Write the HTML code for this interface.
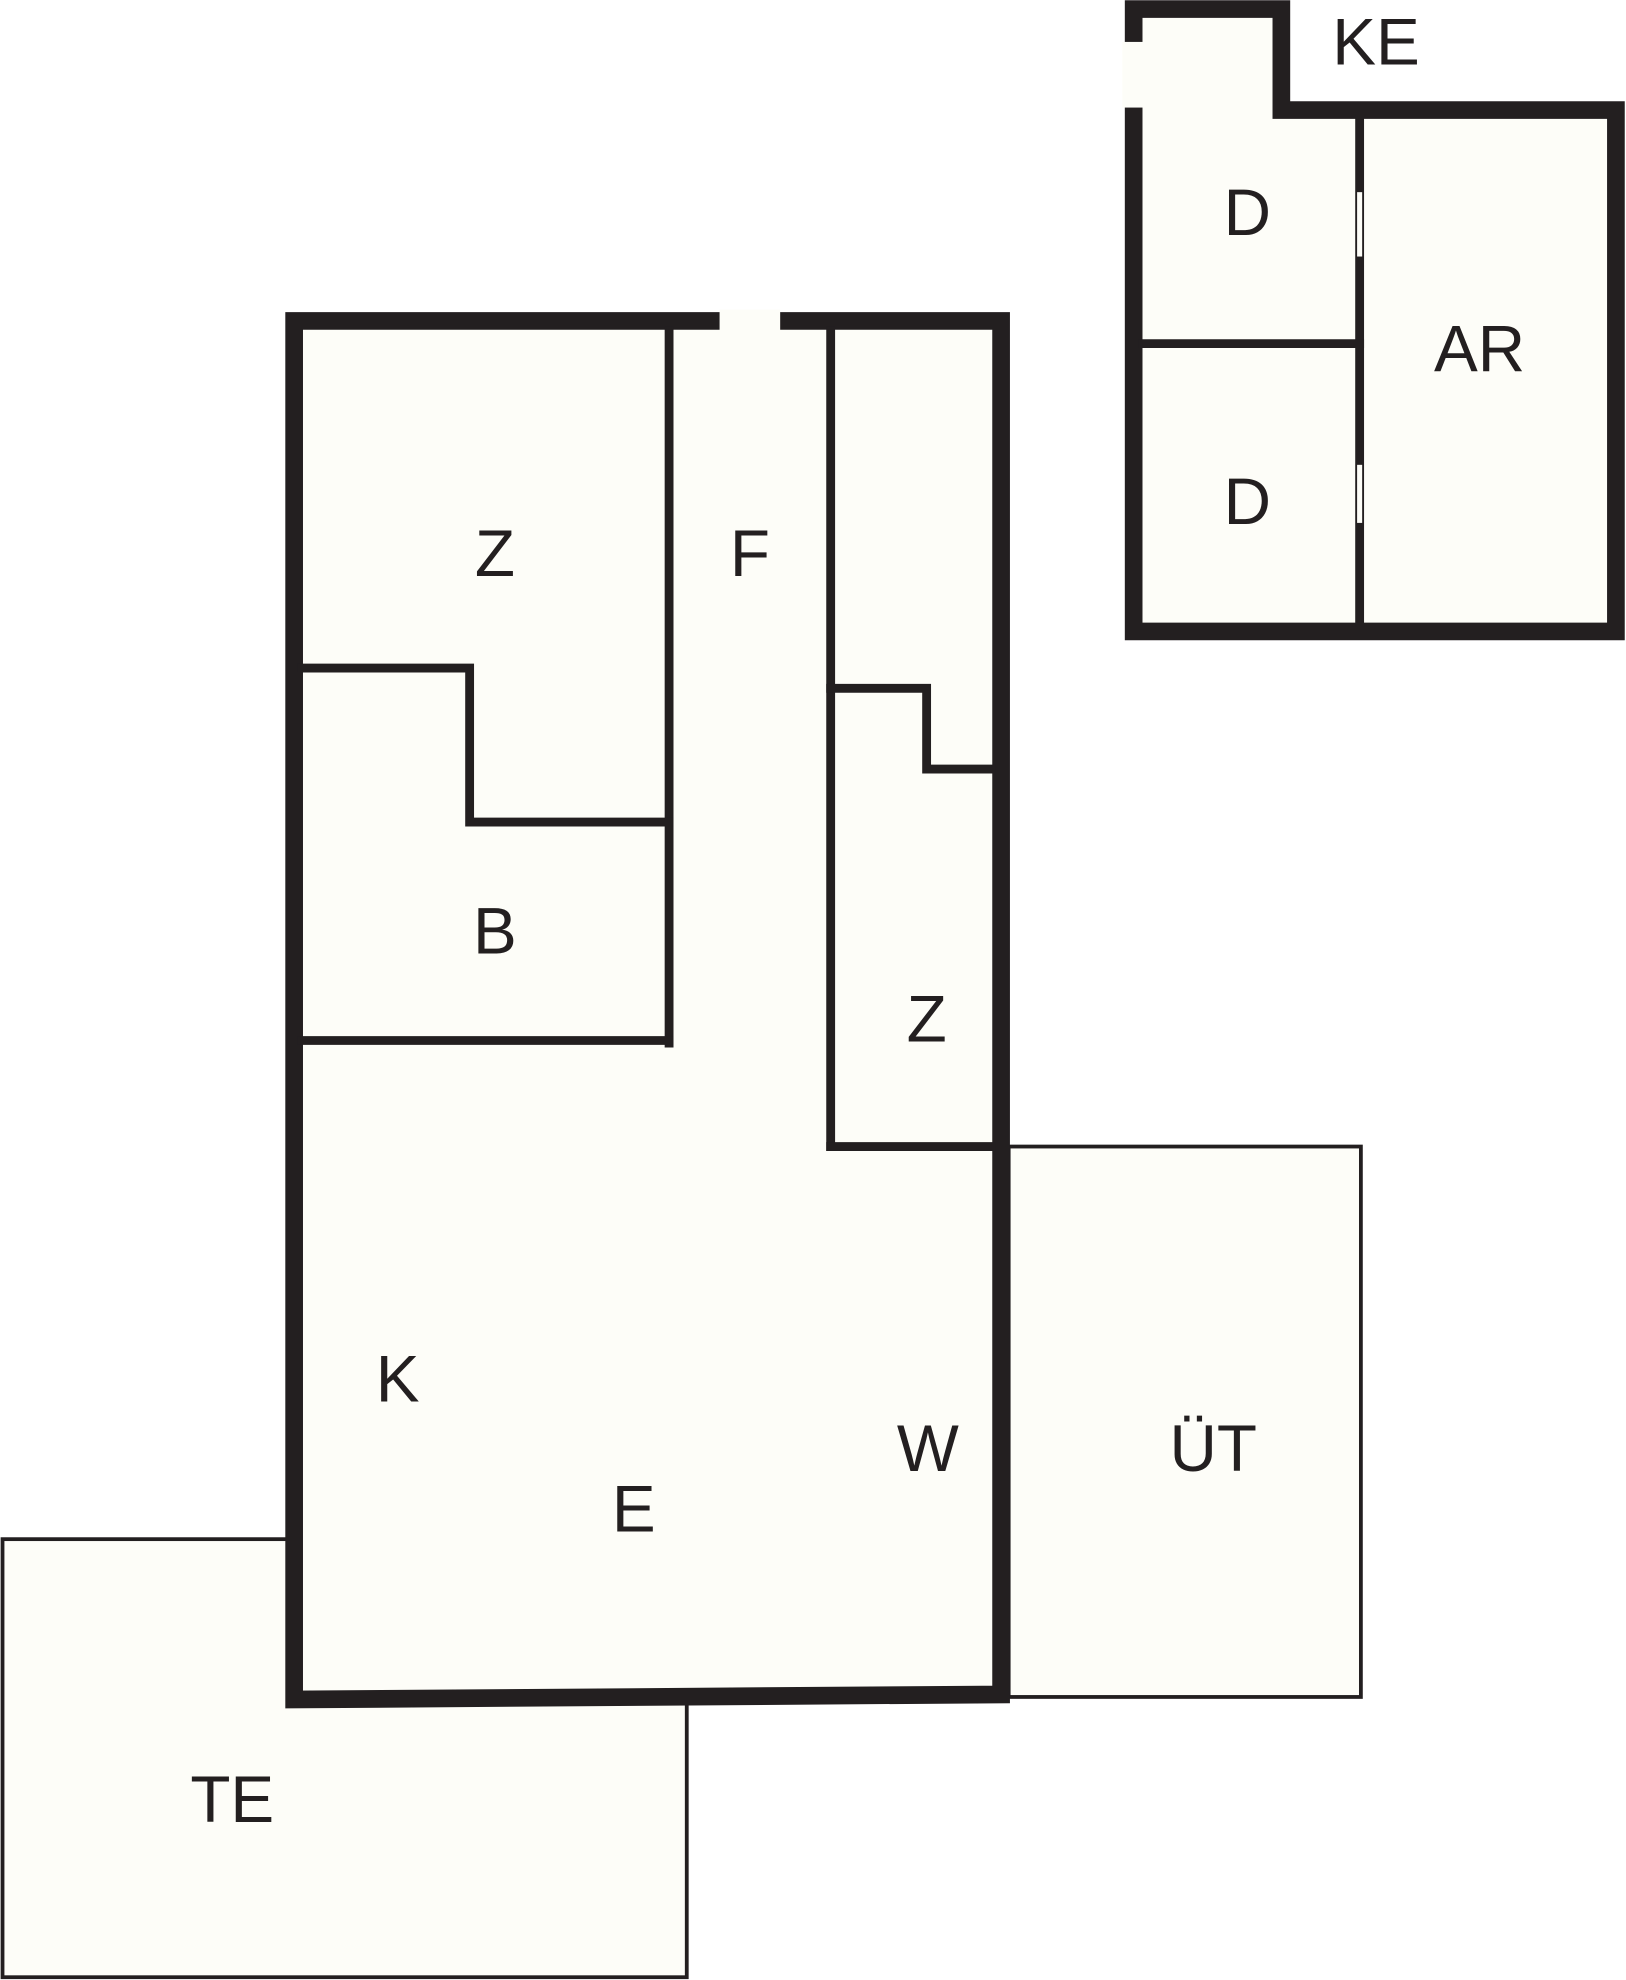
<!DOCTYPE html>
<html><head><meta charset="utf-8"><style>html,body{margin:0;padding:0;background:#fff}svg{display:block}</style></head>
<body>
<svg width="1626" height="1980" viewBox="0 0 1288 1568" xmlns="http://www.w3.org/2000/svg">
<g fill="#fdfdf8" stroke="#231f20">
<rect x="2" y="1219" width="542" height="347" stroke-width="3"/>
<rect x="799" y="908" width="279" height="436" stroke-width="3"/>
<polygon points="233,254 793,254 793,1342 233,1346" stroke-width="14"/>
<polygon points="898,7 1015,7 1015,87 1280,87 1280,500 898,500" stroke-width="14"/>
</g>
<g fill="#fdfdf8" stroke="none">
<rect x="570" y="245" width="48" height="19"/>
<rect x="889" y="33" width="18" height="52"/>
</g>
<g fill="none" stroke="#231f20" stroke-width="7" stroke-linecap="square">
<line x1="530" y1="262" x2="530" y2="826"/>
<polyline points="239,529 372,529 372,651 530,651"/>
<line x1="239" y1="824" x2="530" y2="824"/>
<line x1="658" y1="262" x2="658" y2="908"/>
<polyline points="658,545 734,545 734,609 785,609"/>
<line x1="658" y1="908" x2="785" y2="908"/>
<line x1="1077" y1="94" x2="1077" y2="493"/>
<line x1="905" y1="272" x2="1077" y2="272"/>
</g>
<g fill="#fdfdf8"><rect x="1075" y="152" width="4" height="51"/><rect x="1075" y="368" width="4" height="46"/></g>
<g font-family="Liberation Sans, sans-serif" font-size="52" fill="#231f20" text-anchor="middle">
<text x="1090" y="51">KE</text>
<text x="988" y="186">D</text>
<text x="1172" y="294">AR</text>
<text x="988" y="415">D</text>
<text x="392" y="456">Z</text>
<text x="594" y="456">F</text>
<text x="392" y="755">B</text>
<text x="734" y="825">Z</text>
<text x="315" y="1110">K</text>
<text x="735" y="1165">W</text>
<text x="502" y="1213">E</text>
<text x="961" y="1165">ÜT</text>
<text x="184" y="1443">TE</text>
</g>
</svg>
</body></html>
